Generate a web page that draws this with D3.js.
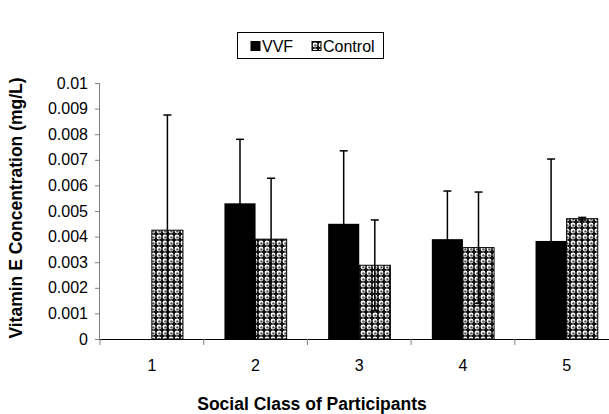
<!DOCTYPE html>
<html><head><meta charset="utf-8">
<script src="https://cdn.jsdelivr.net/npm/d3@7"></script>
<style>body{margin:0;background:#fff}svg{display:block}text{font-family:Arial,"Liberation Sans",sans-serif}</style>
</head><body><div id="c"></div>
<script>
const categories = ["1","2","3","4","5"];
const seriesNames = ["VVF","Control"];
const vvf = [0, 0.0053, 0.0045, 0.0039, 0.00383];
const vvfErr = [0, 0.0025, 0.00285, 0.00188, 0.0032];
const control = [0.00425, 0.0039, 0.00288, 0.00357, 0.0047];
const controlErr = [0.0045, 0.00238, 0.00177, 0.00217, 0.00005];
const yTicks = [0,0.001,0.002,0.003,0.004,0.005,0.006,0.007,0.008,0.009,0.01];

const W=609,H=414;
const svg=d3.select("#c").append("svg").attr("width",W).attr("height",H);
const defs=svg.append("defs");
const pat=defs.append("pattern").attr("id","dots").attr("patternUnits","userSpaceOnUse")
  .attr("width",6).attr("height",6);
pat.append("rect").attr("width",6).attr("height",6).attr("fill","#111");
pat.append("circle").attr("cx",3).attr("cy",3).attr("r",2.4).attr("fill","#fff");
pat.append("circle").attr("cx",3.4).attr("cy",3.4).attr("r",1.2).attr("fill","#555");

const x=d3.scaleBand().domain(categories).range([100,618.5]);
const y=d3.scaleLinear().domain([0,0.01]).range([339,83]);
const bw=x.bandwidth()*0.3;

const gy=svg.append("g").attr("transform","translate(100,0)")
  .call(d3.axisLeft(y).tickValues(yTicks).tickSize(5).tickFormat(d=>d===0?"0":String(+d.toFixed(3))));
gy.select(".domain").attr("stroke","#808080").attr("d","M-0.5,83V339.5");
gy.selectAll(".tick line").attr("stroke","#808080");
gy.selectAll(".tick text").attr("font-size","16px").attr("fill","#000").attr("x",-12);

const data=categories.map((c,i)=>({c,v:vvf[i],ve:vvfErr[i],k:control[i],ke:controlErr[i]}));
const g=svg.append("g");
g.selectAll(".v").data(data.filter(d=>d.v>0)).join("rect")
  .attr("x",d=>x(d.c)+x.bandwidth()/2-bw).attr("width",bw)
  .attr("y",d=>y(d.v)).attr("height",d=>y(0)-y(d.v)).attr("fill","#000");
g.selectAll(".k").data(data).join("rect")
  .attr("x",d=>x(d.c)+x.bandwidth()/2).attr("width",bw)
  .attr("y",d=>y(d.k)).attr("height",d=>y(0)-y(d.k)).attr("fill","url(#dots)")
  .attr("stroke","#000").attr("stroke-width",1);

function errbar(cx,v,e){
  const top=y(v+e), bot=y(Math.max(0,v-e));
  const eg=g.append("g").attr("stroke","#000").attr("stroke-width",1.5);
  eg.append("line").attr("x1",cx).attr("x2",cx).attr("y1",top).attr("y2",bot);
  eg.append("line").attr("x1",cx-4).attr("x2",cx+4).attr("y1",top).attr("y2",top);
  if(v-e>0) eg.append("line").attr("x1",cx-4).attr("x2",cx+4).attr("y1",bot).attr("y2",bot);
}
data.forEach(d=>{
  if(d.v>0) errbar(x(d.c)+x.bandwidth()/2-bw/2,d.v,d.ve);
  errbar(x(d.c)+x.bandwidth()/2+bw/2,d.k,d.ke);
});

const gx=svg.append("g").attr("transform","translate(0,339)")
  .call(d3.axisBottom(x).tickSize(0).tickPadding(21));
gx.select(".domain").attr("stroke","#000").attr("d","M100,0.5H618.5");
gx.selectAll(".tick text").attr("font-size","16px").attr("fill","#000");
svg.append("g").selectAll("line").data(categories.concat(["end"])).join("line")
  .attr("x1",(d,i)=>100+i*x.step()).attr("x2",(d,i)=>100+i*x.step())
  .attr("y1",339).attr("y2",345).attr("stroke","#808080");

svg.append("text").attr("x",312).attr("y",410).attr("text-anchor","middle")
  .attr("font-size","17.5px").attr("font-weight","bold").text("Social Class of Participants");
svg.append("text").attr("transform","translate(22,208) rotate(-90)").attr("text-anchor","middle")
  .attr("font-size","17.5px").attr("font-weight","bold").text("Vitamin E Concentration (mg/L)");

const lg=svg.append("g");
lg.append("rect").attr("x",237.5).attr("y",32.5).attr("width",146).attr("height",26)
  .attr("fill","#fff").attr("stroke","#000");
const li=[{n:seriesNames[0],x:251,f:"#000"},{n:seriesNames[1],x:312,f:"url(#dots)"}];
li.forEach(d=>{
  lg.append("rect").attr("x",d.x).attr("y",41.5).attr("width",9).attr("height",9)
    .attr("fill",d.f).attr("stroke","#000");
  lg.append("text").attr("x",d.x+11).attr("y",52).attr("font-size","16px").text(d.n);
});
</script></body></html>
